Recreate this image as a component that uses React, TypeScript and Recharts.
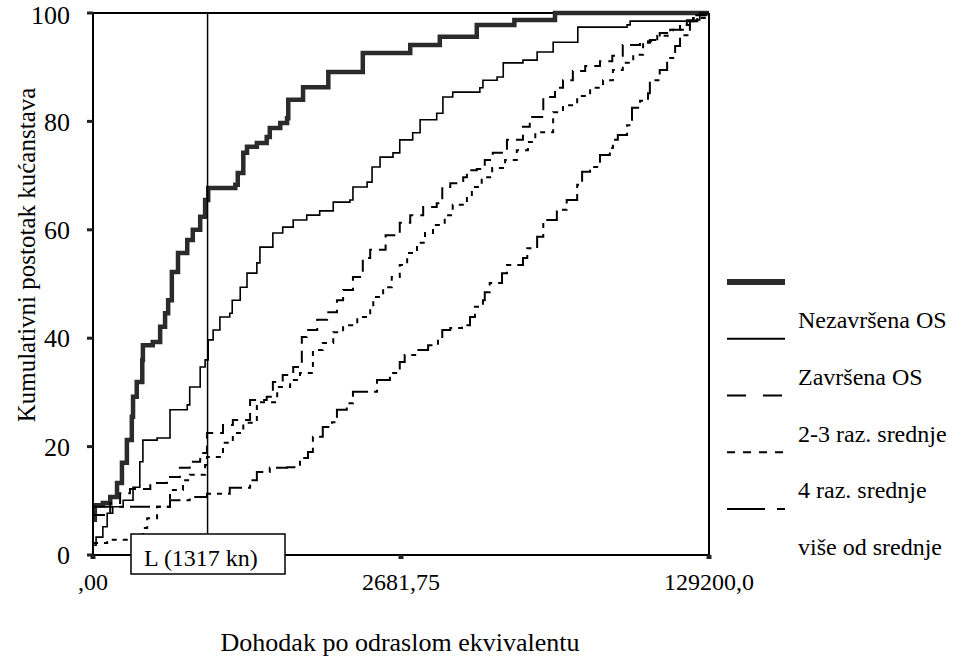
import { LineChart, Line, XAxis, YAxis, ReferenceLine } from 'recharts';

// x os: normirani dohodak (0 = ,00 ; 1 = 129200,0), y: kumulativni postotak
const xTickValues = [0, 0.5, 1];
const xTickLabels = [',00', '2681,75', '129200,0'];
const yTicks = [0, 20, 40, 60, 80, 100];

const povertyLineX = 0.186; // linija siromaštva
const povertyLineLabel = 'L (1317 kn)';

const seriesNames = ['Nezavršena OS', 'Završena OS', '2-3 raz. srednje', '4 raz. srednje', 'više od srednje'];

const nezavrsenaOS: [number, number][] = [
  [0, 6.5], [0.003, 9.2], [0.016, 9.6], [0.028, 10.7], [0.039, 13.3], [0.047, 17.0], [0.055, 21.2],
  [0.063, 25.5], [0.065, 29.2], [0.071, 31.9], [0.08, 36.0], [0.081, 38.7], [0.097, 39.3], [0.109, 42.1],
  [0.117, 44.6], [0.122, 47.0], [0.128, 52.2], [0.138, 55.7], [0.153, 58.1], [0.162, 60.0], [0.174, 62.4],
  [0.182, 65.5], [0.187, 67.7], [0.231, 68.3], [0.235, 70.5], [0.244, 74.2], [0.25, 75.3], [0.266, 76.0],
  [0.282, 77.1], [0.287, 78.8], [0.304, 79.7], [0.315, 80.6], [0.317, 84.0], [0.336, 84.0], [0.341, 86.3],
  [0.373, 86.3], [0.382, 89.1], [0.414, 89.1], [0.438, 92.6], [0.51, 92.6], [0.515, 94.1], [0.558, 94.1],
  [0.563, 95.6], [0.617, 95.6], [0.623, 97.8], [0.682, 97.8], [0.684, 98.7], [0.747, 98.7], [0.75, 100],
  [1, 100],
];

const zavrsenaOS: [number, number][] = [
  [0, 1.8], [0.005, 3.3], [0.016, 5.2], [0.023, 7.7], [0.032, 8.9], [0.049, 10.1], [0.065, 12.5],
  [0.076, 14.4], [0.076, 17.2], [0.081, 21.2], [0.104, 21.6], [0.125, 23.1], [0.125, 26.8], [0.153, 27.7],
  [0.157, 31.0], [0.174, 34.7], [0.182, 36.0], [0.187, 36.5], [0.187, 39.7], [0.195, 41.5], [0.206, 43.9],
  [0.222, 44.6], [0.226, 47.0], [0.239, 49.4], [0.25, 52.0], [0.266, 53.9], [0.271, 56.8], [0.292, 59.4],
  [0.308, 60.5], [0.325, 61.8], [0.347, 62.7], [0.368, 63.5], [0.39, 65.1], [0.417, 65.5], [0.422, 67.9],
  [0.445, 68.8], [0.453, 71.6], [0.466, 73.4], [0.487, 74.2], [0.498, 76.6], [0.519, 77.9], [0.531, 80.3],
  [0.558, 81.5], [0.568, 84.5], [0.584, 85.4], [0.628, 86.2], [0.633, 87.6], [0.656, 88.2], [0.666, 90.8],
  [0.698, 91.3], [0.721, 92.8], [0.747, 94.6], [0.787, 97.4], [0.867, 97.8], [0.872, 98.5], [0.964, 98.7],
  [0.985, 100], [1, 100],
];

const srednja23: [number, number][] = [
  [0, 7.4], [0.028, 9.6], [0.044, 11.4], [0.06, 12.2], [0.093, 13.3], [0.12, 14.4], [0.141, 16.1],
  [0.157, 17.2], [0.174, 18.8], [0.185, 22.5], [0.211, 24.0], [0.227, 24.9], [0.255, 28.6], [0.282, 29.2],
  [0.292, 31.9], [0.308, 33.2], [0.325, 34.7], [0.336, 35.4], [0.339, 40.2], [0.347, 41.5], [0.364, 43.4],
  [0.38, 44.8], [0.396, 47.0], [0.406, 48.9], [0.422, 51.3], [0.438, 54.8], [0.45, 56.3], [0.475, 59.0],
  [0.498, 61.3], [0.515, 62.7], [0.536, 64.2], [0.558, 64.9], [0.567, 67.9], [0.58, 68.6], [0.601, 69.7],
  [0.607, 71.0], [0.623, 71.2], [0.636, 72.9], [0.649, 74.2], [0.672, 76.6], [0.698, 79.0], [0.709, 80.8],
  [0.731, 84.5], [0.75, 86.2], [0.763, 87.6], [0.779, 89.3], [0.799, 90.2], [0.823, 91.1], [0.843, 92.1],
  [0.86, 94.1], [0.888, 94.5], [0.904, 95.0], [0.92, 96.3], [0.942, 96.9], [0.964, 98.5], [0.974, 99.6],
  [1, 100],
];

const srednja4: [number, number][] = [
  [0, 2.2], [0.023, 2.8], [0.065, 3.3], [0.081, 5.0], [0.088, 6.8], [0.104, 8.9], [0.125, 12.0],
  [0.146, 13.8], [0.157, 14.8], [0.182, 16.6], [0.185, 18.1], [0.211, 20.7], [0.227, 22.5], [0.244, 24.4],
  [0.266, 28.2], [0.299, 31.0], [0.32, 32.3], [0.336, 33.6], [0.357, 37.8], [0.373, 39.1], [0.39, 41.1],
  [0.406, 42.4], [0.429, 43.9], [0.45, 45.6], [0.455, 47.6], [0.471, 49.4], [0.485, 51.3], [0.498, 53.5],
  [0.51, 55.7], [0.526, 57.6], [0.539, 59.4], [0.552, 60.9], [0.571, 62.7], [0.584, 64.6], [0.607, 66.1],
  [0.615, 67.9], [0.631, 69.7], [0.648, 71.4], [0.669, 72.9], [0.688, 74.7], [0.706, 76.2], [0.718, 78.0],
  [0.747, 81.7], [0.763, 83.0], [0.786, 84.7], [0.807, 86.2], [0.828, 87.6], [0.844, 89.5], [0.86, 90.8],
  [0.877, 92.3], [0.893, 94.8], [0.916, 95.8], [0.937, 96.9], [0.953, 97.8], [0.974, 99.1], [1, 100],
];

const viseOdSrednje: [number, number][] = [
  [0, 8.9], [0.104, 8.9], [0.125, 10.1], [0.157, 10.7], [0.185, 11.3], [0.222, 12.4], [0.255, 13.8],
  [0.266, 15.3], [0.287, 16.1], [0.315, 16.2], [0.336, 17.9], [0.349, 19.0], [0.357, 21.8], [0.373, 23.6],
  [0.388, 24.5], [0.396, 26.8], [0.412, 28.0], [0.422, 30.1], [0.45, 30.1], [0.461, 32.3], [0.482, 33.6],
  [0.498, 35.6], [0.506, 36.9], [0.523, 37.8], [0.544, 38.7], [0.56, 40.0], [0.567, 41.5], [0.58, 41.9],
  [0.599, 42.4], [0.612, 43.9], [0.62, 45.8], [0.633, 47.0], [0.636, 48.5], [0.644, 50.2], [0.664, 52.0],
  [0.672, 53.5], [0.698, 54.8], [0.705, 56.6], [0.721, 58.7], [0.731, 59.4], [0.731, 61.8], [0.753, 63.7],
  [0.769, 65.5], [0.786, 68.3], [0.794, 70.7], [0.807, 71.6], [0.823, 73.8], [0.839, 75.1], [0.844, 76.6],
  [0.852, 77.5], [0.867, 79.3], [0.875, 82.5], [0.888, 83.8], [0.901, 85.2], [0.904, 87.6], [0.92, 89.5],
  [0.932, 91.7], [0.945, 93.9], [0.953, 95.9], [0.969, 98.5], [0.981, 99.6], [1, 100],
];

const FONT = 'Liberation Serif, DejaVu Serif, serif';

const toPoints = (pairs: [number, number][]) => pairs.map(([x, y]) => ({ x, y }));

// stil linija: debljina, crtkanje (graf / legenda)
const lineStyles = [
  { color: '#2b2b2b', width: 4.5, dash: undefined, legendWidth: 6, legendDash: undefined },
  { color: '#000', width: 1.6, dash: undefined, legendWidth: 2, legendDash: undefined },
  { color: '#000', width: 2, dash: '12 7', legendWidth: 2, legendDash: '19 17' },
  { color: '#000', width: 2, dash: '5 6', legendWidth: 2, legendDash: '8 8' },
  { color: '#000', width: 2, dash: '20 6 5 6', legendWidth: 2, legendDash: '38 12 8 12' },
];

const seriesData = [nezavrsenaOS, zavrsenaOS, srednja23, srednja4, viseOdSrednje];

export default function App() {
  return (
    <div style={{ position: 'absolute', left: 0, top: 0, width: 958, height: 656, background: '#fff', fontFamily: FONT }}>
      <LineChart width={958} height={656} margin={{ top: 13, right: 249, bottom: 61, left: 0 }}
        style={{ fontFamily: FONT }}>
        <XAxis
          type="number"
          dataKey="x"
          domain={[0, 1]}
          ticks={xTickValues}
          tickFormatter={(v: number) => xTickLabels[xTickValues.indexOf(v)] ?? ''}
          height={40}
          tickSize={4}
          tickMargin={14}
          axisLine={{ stroke: '#000', strokeWidth: 2 }}
          tickLine={{ stroke: '#222', strokeWidth: 5 }}
          tick={{ fill: '#000', fontSize: 24, style: { fontFamily: FONT } }}
          allowDataOverflow
        />
        <YAxis
          type="number"
          domain={[0, 100]}
          ticks={yTicks}
          width={93}
          tickSize={6}
          tickMargin={17}
          axisLine={{ stroke: '#000', strokeWidth: 2 }}
          tickLine={{ stroke: '#222', strokeWidth: 3 }}
          tick={{ fill: '#000', fontSize: 26, style: { fontFamily: FONT } }}
        />
        <ReferenceLine y={100} stroke="#000" strokeWidth={2} />
        <ReferenceLine x={1} stroke="#000" strokeWidth={2} />
        {seriesData.map((d, i) => (
          <Line
            key={seriesNames[i]}
            name={seriesNames[i]}
            data={toPoints(d)}
            dataKey="y"
            type="stepAfter"
            stroke={lineStyles[i].color}
            strokeWidth={lineStyles[i].width}
            strokeDasharray={lineStyles[i].dash}
            dot={false}
            activeDot={false}
            isAnimationActive={false}
          />
        ))}
        {/* okomita linija L, završava na vrhu okvira s oznakom */}
        <ReferenceLine
          segment={[{ x: povertyLineX, y: 100 }, { x: povertyLineX, y: 4 }]}
          stroke="#000"
          strokeWidth={1.5}
        />
      </LineChart>

      <svg width={958} height={656} style={{ position: 'absolute', left: 0, top: 0, pointerEvents: 'none', fontFamily: FONT }}>
        {/* okvir s oznakom linije siromaštva, preko osi */}
        <rect x={131} y={534} width={154} height={40} fill="#fff" stroke="#000" strokeWidth={1.5} />
        <text x={201} y={558} textAnchor="middle" dominantBaseline="central" fontSize={24} fill="#000">
          {povertyLineLabel}
        </text>
        <text x={26} y={255} transform="rotate(-90 26 255)" textAnchor="middle" dominantBaseline="central"
          fontSize={25} fill="#000">
          Kumulativni postotak kućanstava
        </text>
        <text x={400} y={642} textAnchor="middle" dominantBaseline="central" fontSize={26} fill="#000">
          Dohodak po odraslom ekvivalentu
        </text>
        {/* legenda: uzorak linije iznad, naziv ispod */}
        {seriesNames.map((name, i) => (
          <g key={name}>
            <line x1={727} x2={785} y1={282 + i * 56.75} y2={282 + i * 56.75}
              stroke={lineStyles[i].color} strokeWidth={lineStyles[i].legendWidth}
              strokeDasharray={lineStyles[i].legendDash} />
            <text x={798} y={320 + i * 56.75} dominantBaseline="central" fontSize={24} fill="#000">
              {name}
            </text>
          </g>
        ))}
      </svg>
    </div>
  );
}
